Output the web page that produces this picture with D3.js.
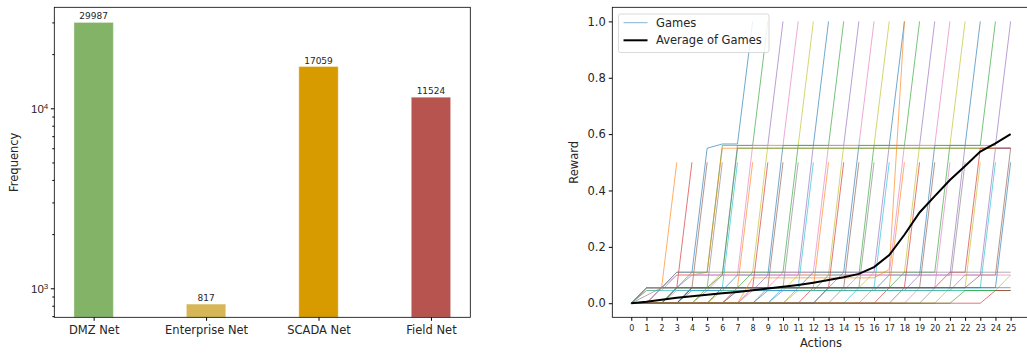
<!DOCTYPE html>
<html>
<head>
<meta charset="utf-8">
<script src="https://cdn.jsdelivr.net/npm/d3@7"></script>
<style>
  html, body { margin: 0; padding: 0; background: #fff; }
  svg { display: block; font-family: "DejaVu Sans", sans-serif; }
  .tick text { fill: #262626; }
</style>
</head>
<body>
<svg id="chart" width="1027" height="354"></svg>
<script>
// left panel: frequency per network zone
const categories = ['DMZ Net', 'Enterprise Net', 'SCADA Net', 'Field Net'];
const frequencies = [29987, 817, 17059, 11524];
const barColors = ['#82b366', '#d6b656', '#d79b00', '#b85450'];
const freqMajorTicks = [1000, 10000];
const freqMinorTicks = [700, 800, 900, 2000, 3000, 4000, 5000, 6000, 7000, 8000, 9000, 20000, 30000];

// right panel: reward per action
const actions = [0, 1, 2, 3, 4, 5, 6, 7, 8, 9, 10, 11, 12, 13, 14, 15, 16, 17, 18, 19, 20, 21, 22, 23, 24, 25];
const rewardTicks = [0, 0.2, 0.4, 0.6, 0.8, 1.0];
const averageReward = [0, 0.005, 0.012, 0.019, 0.025, 0.03, 0.035, 0.04, 0.046, 0.052, 0.058, 0.065, 0.073,
  0.082, 0.092, 0.104, 0.128, 0.171, 0.243, 0.322, 0.38, 0.437, 0.487, 0.538, 0.567, 0.6];

// each game as [action, reward] break points
const games = [
  [[0,0],[1,0.055],[2,0.055],[3,0.11],[4,0.11],[5,0.55],[6,0.565],[7,0.565],[8,1]],
  [[0,0],[1,0.055],[2,0.055],[3,0.5]],
  [[0,0],[1,0.055],[3,0.055],[4,0.11],[5,0.11],[6,0.56],[8,0.56],[9,1]],
  [[0,0],[1,0],[2,0.055],[3,0.055],[4,0.5]],
  [[0,0],[1,0],[2,0.055],[3,0.055],[4,0.1],[6,0.1],[7,0.56],[9,0.56],[10,1]],
  [[0,0],[2,0],[3,0.055],[4,0.055],[5,0.5]],
  [[0,0],[2,0],[3,0.045],[5,0.045],[6,0.1],[7,0.1],[8,0.56],[10,0.56],[11,1]],
  [[0,0],[3,0],[4,0.055],[5,0.055],[6,0.5]],
  [[0,0],[1,0.055],[5,0.055],[6,0.11],[8,0.11],[9,0.56],[11,0.56],[12,1]],
  [[0,0],[4,0],[5,0.055],[6,0.055],[7,0.5]],
  [[0,0],[3,0],[4,0.045],[6,0.045],[7,0.1],[9,0.1],[10,0.56],[12,0.56],[13,1]],
  [[0,0],[5,0],[6,0.055],[7,0.055],[8,0.5]],
  [[0,0],[2,0],[3,0.055],[7,0.055],[8,0.11],[10,0.11],[11,0.56],[13,0.56],[14,1]],
  [[0,0],[6,0],[7,0.055],[8,0.055],[9,0.5]],
  [[0,0],[4,0],[5,0.045],[8,0.045],[9,0.1],[11,0.1],[12,0.56],[14,0.56],[15,1]],
  [[0,0],[7,0],[8,0.055],[9,0.055],[10,0.5]],
  [[0,0],[1,0.055],[9,0.055],[10,0.11],[12,0.11],[13,0.56],[15,0.56],[16,1]],
  [[0,0],[8,0],[9,0.055],[10,0.055],[11,0.5]],
  [[0,0],[5,0],[6,0.045],[10,0.045],[11,0.1],[13,0.1],[14,0.56],[16,0.56],[17,1]],
  [[0,0],[9,0],[10,0.055],[11,0.055],[12,0.5]],
  [[0,0],[3,0],[4,0.055],[11,0.055],[12,0.11],[14,0.11],[15,0.56],[17,0.56],[18,1]],
  [[0,0],[10,0],[11,0.055],[12,0.055],[13,0.5]],
  [[0,0],[6,0],[7,0.045],[12,0.045],[13,0.1],[15,0.1],[16,0.56],[18,0.56],[19,1]],
  [[0,0],[11,0],[12,0.055],[13,0.055],[14,0.5]],
  [[0,0],[2,0],[3,0.055],[13,0.055],[14,0.11],[16,0.11],[17,0.56],[19,0.56],[20,1]],
  [[0,0],[12,0],[13,0.055],[14,0.055],[15,0.5]],
  [[0,0],[7,0],[8,0.045],[14,0.045],[15,0.1],[17,0.1],[18,0.56],[20,0.56],[21,1]],
  [[0,0],[13,0],[14,0.055],[15,0.055],[16,0.5]],
  [[0,0],[4,0],[5,0.055],[15,0.055],[16,0.11],[18,0.11],[19,0.56],[21,0.56],[22,1]],
  [[0,0],[14,0],[15,0.055],[16,0.055],[17,0.5]],
  [[0,0],[8,0],[9,0.045],[16,0.045],[17,0.1],[19,0.1],[20,0.56],[22,0.56],[23,1]],
  [[0,0],[15,0],[16,0.055],[17,0.055],[18,0.5]],
  [[0,0],[5,0],[6,0.055],[17,0.055],[18,0.11],[20,0.11],[21,0.56],[23,0.56],[24,1]],
  [[0,0],[16,0],[17,0.055],[18,0.055],[19,0.5]],
  [[0,0],[9,0],[10,0.045],[18,0.045],[19,0.1],[21,0.1],[22,0.56],[24,0.56],[25,1]],
  [[0,0],[17,0],[18,0.055],[19,0.055],[20,0.5]],
  [[0,0],[18,0],[19,0.055],[20,0.055],[21,0.5]],
  [[0,0],[19,0],[20,0.055],[21,0.055],[22,0.5]],
  [[0,0],[20,0],[21,0.055],[22,0.055],[23,0.5]],
  [[0,0],[1,0.055],[23,0.055],[24,0.5]],
  [[0,0],[3,0],[4,0.055],[24,0.055],[25,0.5]],
  [[0,0],[1,0.045],[2,0.045],[3,0.1],[4,0.1],[5,0.11],[6,0.55],[25,0.55]],
  [[0,0],[2,0],[3,0.055],[5,0.055],[6,0.1],[7,0.55],[25,0.55]],
  [[0,0],[3,0],[4,0.055],[20,0.055],[21,0.11],[22,0.11],[23,0.55],[25,0.55]],
  [[0,0],[6,0],[7,0.045],[21,0.045],[22,0.1],[23,0.1],[24,0.55],[25,0.55]],
  [[0,0],[1,0.055],[22,0.055],[23,0.1],[24,0.1],[25,0.55]],
  [[0,0],[1,0.055],[2,0.055],[3,0.1],[25,0.1]],
  [[0,0],[2,0.055],[3,0.11],[25,0.11]],
  [[0,0],[10,0],[11,0.045],[24,0.045],[25,0.1]],
  [[0,0],[1,0.045],[25,0.045]],
  [[0,0],[12,0],[13,0.055],[25,0.055]],
  [[0,0],[7,0],[8,0.09],[16,0.09],[17,0.12],[18,1]],
  [[0,0],[21,0],[22,0.045],[25,0.045]],
  [[0,0],[23,0],[24,0.045],[25,0.045]]
];
const gameColors = ['#1f77b4', '#ff7f0e', '#2ca02c', '#d62728', '#9467bd', '#8c564b', '#e377c2', '#7f7f7f', '#bcbd22', '#17becf'];

const svg = d3.select('#chart');

// ---------- left: bar chart on a log axis ----------
const L = {left: 54.3, right: 470.3, top: 7.3, bottom: 317.3};
const xBar = d3.scaleLinear().domain([-0.35, 3.35]).range([L.left, L.right]);
const yFreq = d3.scaleLog().domain([690, 36400]).range([L.bottom, L.top]);
const barW = xBar(0.35) - xBar(0);

const left = svg.append('g');
left.selectAll('rect.bar')
  .data(frequencies)
  .enter()
  .append('rect')
  .attr('class', 'bar')
  .attr('x', (d, i) => xBar(i) - barW / 2)
  .attr('y', d => yFreq(d))
  .attr('width', barW)
  .attr('height', d => L.bottom - yFreq(d))
  .attr('fill', (d, i) => barColors[i])
  .attr('stroke', '#fff')
  .attr('stroke-opacity', 0.35)
  .attr('stroke-width', 1);

left.selectAll('text.val')
  .data(frequencies)
  .enter()
  .append('text')
  .attr('class', 'val')
  .attr('x', (d, i) => xBar(i))
  .attr('y', d => yFreq(d) - 3)
  .attr('text-anchor', 'middle')
  .attr('font-size', '9px')
  .attr('fill', '#262626')
  .text(d => d);

const xAxisL = d3.axisBottom(xBar).tickValues([0, 1, 2, 3]).tickFormat(i => categories[i]).tickSizeOuter(0).tickSize(3.5);
left.append('g')
  .attr('transform', `translate(0,${L.bottom})`)
  .call(xAxisL)
  .call(g => g.select('.domain').remove())
  .call(g => g.selectAll('text').attr('font-size', '11.5px').attr('dy', '0.85em').attr('font-family', 'DejaVu Sans'));

const yAxisMinor = d3.axisLeft(yFreq).tickValues(freqMinorTicks).tickFormat('').tickSize(2).tickSizeOuter(0);
left.append('g')
  .attr('transform', `translate(${L.left},0)`)
  .call(yAxisMinor)
  .call(g => g.select('.domain').remove());

const yAxisMajor = d3.axisLeft(yFreq).tickValues(freqMajorTicks).tickFormat('').tickSize(3.5).tickSizeOuter(0);
const yMaj = left.append('g')
  .attr('transform', `translate(${L.left},0)`)
  .call(yAxisMajor)
  .call(g => g.select('.domain').remove());
yMaj.selectAll('.tick').append('text')
  .attr('x', -6)
  .attr('dy', '0.4em')
  .attr('text-anchor', 'end')
  .attr('font-size', '11.5px')
  .attr('fill', '#262626')
  .each(function (d) {
    const t = d3.select(this);
    t.append('tspan').text('10');
    t.append('tspan').attr('dy', '-0.5em').attr('font-size', '8px').text(Math.round(Math.log10(d)));
  });

left.append('rect')
  .attr('x', L.left).attr('y', L.top)
  .attr('width', L.right - L.left).attr('height', L.bottom - L.top)
  .attr('fill', 'none').attr('stroke', '#000').attr('stroke-width', 0.8);

left.append('text')
  .attr('transform', `translate(18,${(L.top + L.bottom) / 2}) rotate(-90)`)
  .attr('text-anchor', 'middle')
  .attr('font-size', '11.5px')
  .attr('fill', '#262626')
  .text('Frequency');

// ---------- right: reward per action ----------
const R = {left: 612.3, right: 1029.6, top: 7.3, bottom: 317.3};
const xAct = d3.scaleLinear().domain([-1.25, 26.25]).range([R.left, R.right]);
const yRew = d3.scaleLinear().domain([-0.05, 1.05]).range([R.bottom, R.top]);

const right = svg.append('g');
right.append('defs').append('clipPath').attr('id', 'clipR')
  .append('rect').attr('x', R.left).attr('y', R.top).attr('width', R.right - R.left).attr('height', R.bottom - R.top);

const line = d3.line().x(d => xAct(d[0])).y(d => yRew(d[1]));
const plot = right.append('g').attr('clip-path', 'url(#clipR)');

plot.selectAll('path.game')
  .data(games)
  .enter()
  .append('path')
  .attr('class', 'game')
  .attr('d', line)
  .attr('fill', 'none')
  .attr('stroke', (d, i) => gameColors[i % gameColors.length])
  .attr('stroke-width', 0.8)
  .attr('stroke-opacity', 0.8);

plot.append('path')
  .attr('d', d3.line().x((d, i) => xAct(actions[i])).y(d => yRew(d))(averageReward))
  .attr('fill', 'none')
  .attr('stroke', '#000')
  .attr('stroke-width', 2);

const xAxisR = d3.axisBottom(xAct).tickValues(actions).tickFormat(d3.format('d')).tickSize(3.5).tickSizeOuter(0);
right.append('g')
  .attr('transform', `translate(0,${R.bottom})`)
  .call(xAxisR)
  .call(g => g.select('.domain').remove())
  .call(g => g.selectAll('text').attr('font-size', '8px').attr('dy', '0.9em').attr('font-family', 'DejaVu Sans'));

const yAxisR = d3.axisLeft(yRew).tickValues(rewardTicks).tickFormat(d3.format('.1f')).tickSize(3.5).tickSizeOuter(0);
right.append('g')
  .attr('transform', `translate(${R.left},0)`)
  .call(yAxisR)
  .call(g => g.select('.domain').remove())
  .call(g => g.selectAll('text').attr('font-size', '11.5px').attr('font-family', 'DejaVu Sans'));

right.append('rect')
  .attr('x', R.left).attr('y', R.top)
  .attr('width', R.right - R.left).attr('height', R.bottom - R.top)
  .attr('fill', 'none').attr('stroke', '#000').attr('stroke-width', 0.8);

right.append('text')
  .attr('transform', `translate(578,${(R.top + R.bottom) / 2}) rotate(-90)`)
  .attr('text-anchor', 'middle')
  .attr('font-size', '11.5px')
  .attr('fill', '#262626')
  .text('Reward');

right.append('text')
  .attr('x', xAct(12.5))
  .attr('y', 347)
  .attr('text-anchor', 'middle')
  .attr('font-size', '11.5px')
  .attr('fill', '#262626')
  .text('Actions');

// legend
const legend = right.append('g').attr('transform', 'translate(618.5,14)');
legend.append('rect')
  .attr('width', 150.5).attr('height', 38.5).attr('rx', 2)
  .attr('fill', '#fff').attr('fill-opacity', 0.85)
  .attr('stroke', '#d0d0d0').attr('stroke-width', 0.8);
const legendItems = [
  {label: 'Games', color: '#1f77b4', width: 0.8, opacity: 0.7, y: 8.7},
  {label: 'Average of Games', color: '#000', width: 2, opacity: 1, y: 26.3}
];
legend.selectAll('g.item')
  .data(legendItems)
  .enter()
  .append('g')
  .attr('class', 'item')
  .each(function (d) {
    const g = d3.select(this);
    g.append('line')
      .attr('x1', 5).attr('x2', 29).attr('y1', d.y).attr('y2', d.y)
      .attr('stroke', d.color).attr('stroke-width', d.width).attr('stroke-opacity', d.opacity);
    g.append('text')
      .attr('x', 37.5).attr('y', d.y).attr('dy', '0.35em')
      .attr('font-size', '11.5px').attr('fill', '#262626')
      .text(d.label);
  });
</script>
</body>
</html>
